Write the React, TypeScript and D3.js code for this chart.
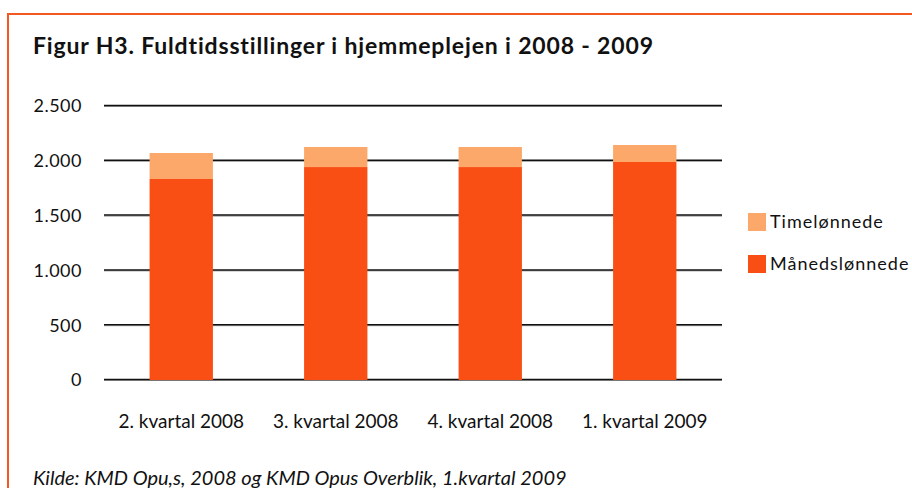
import React from "react";
import * as d3 from "d3";

const quarters = ["2. kvartal 2008", "3. kvartal 2008", "4. kvartal 2008", "1. kvartal 2009"];
const maanedsloennede = [1834, 1943, 1943, 1989];
const timeloennede = [237, 183, 183, 155];
const seriesNames = ["Timelønnede", "Månedslønnede"];
const yTicks = [0, 500, 1000, 1500, 2000, 2500];

const W = 912;
const H = 488;
const FONT = "Lato, 'DejaVu Sans', sans-serif";
const DARK = "#FA4F14";
const LIGHT = "#FCA86A";
const noLig = { fontVariantLigatures: "none" } as React.CSSProperties;

const fmt = (v: number) => d3.format(",")(v).replace(/,/g, ".");

export default function App() {
  const x = d3.scaleBand<string>().domain(quarters).range([104, 722]).paddingInner(0.59).paddingOuter(0.295);
  const y = d3.scaleLinear().domain([0, 2500]).range([380, 106]);

  const rows = quarters.map((q, i) => ({ q, maaned: maanedsloennede[i], time: timeloennede[i] }));
  const stacked = d3.stack<any>().keys(["maaned", "time"])(rows);
  const colors = [DARK, LIGHT];

  return (
    <svg width={W} height={H} style={{ position: "absolute", left: 0, top: 0, background: "#fff", ...noLig }}>
      {/* frame */}
      <line x1={8} x2={W} y1={14} y2={14} stroke="#F2581F" strokeWidth={2} />
      <line x1={8} x2={8} y1={13} y2={H} stroke="#F2581F" strokeWidth={2} />

      <text x={33} y={54} fontFamily={FONT} fontWeight="bold" fontSize={23} fill="#111" textLength={620} lengthAdjust="spacing">
        Figur H3. Fuldtidsstillinger i hjemmeplejen i 2008 - 2009
      </text>

      {yTicks.map((t) => (
        <g key={t}>
          <line x1={104} x2={722} y1={y(t) + 0.5} y2={y(t) + 0.5} stroke="#999" strokeWidth={1} />
          <line x1={104} x2={722} y1={y(t) - 0.5} y2={y(t) - 0.5} stroke="#111" strokeWidth={1.5} />
          <text x={82} y={y(t)} dy="0.36em" textAnchor="end" fontFamily={FONT} fontSize={18} fill="#111" letterSpacing={0.5}>
            {fmt(t)}
          </text>
        </g>
      ))}

      {stacked.map((s, si) => (
        <g key={si} fill={colors[si]}>
          {s.map((d: any, i: number) => (
            <rect
              key={i}
              x={x(quarters[i])}
              width={x.bandwidth()}
              y={y(d[1])}
              height={y(d[0]) - y(d[1])}
            />
          ))}
        </g>
      ))}

      {quarters.map((q) => (
        <text key={q} x={(x(q) as number) + x.bandwidth() / 2} y={428} textAnchor="middle" fontFamily={FONT} fontSize={19} fill="#111">
          {q}
        </text>
      ))}

      {/* legend */}
      {seriesNames.map((n, i) => (
        <g key={n} transform={`translate(748, ${213 + i * 42})`}>
          <rect width={18} height={18} fill={i === 0 ? LIGHT : DARK} />
          <text x={22} y={9} dy="0.36em" fontFamily={FONT} fontSize={18} fill="#111" letterSpacing={1}>
            {n}
          </text>
        </g>
      ))}

      <text x={33} y={485} fontFamily={FONT} fontStyle="italic" fontSize={20} fill="#111">
        Kilde: KMD Opu,s, 2008 og KMD Opus Overblik, 1.kvartal 2009
      </text>
    </svg>
  );
}
